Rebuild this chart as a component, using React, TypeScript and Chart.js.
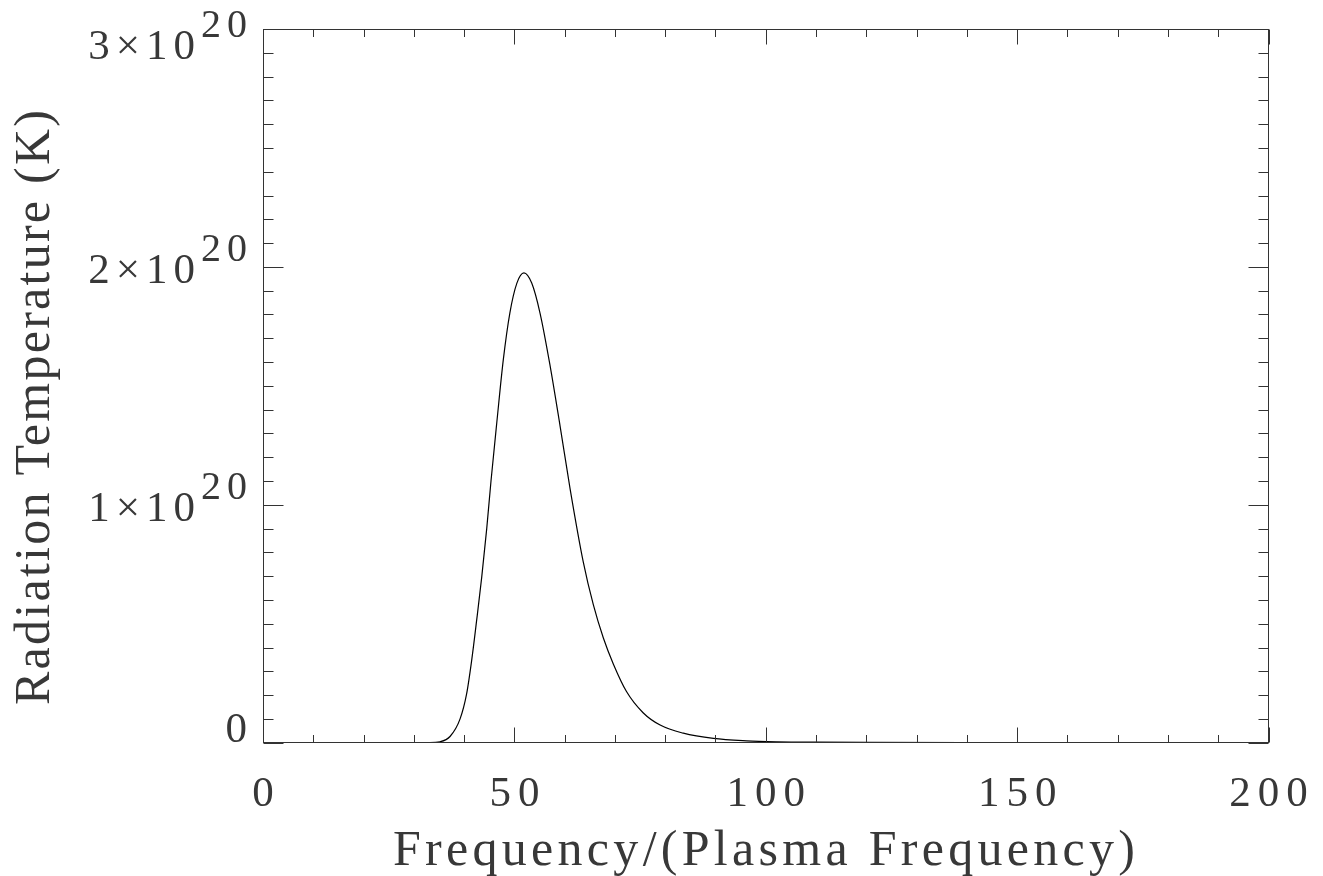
import React, { useEffect, useRef } from 'react';
import { Chart, registerables } from 'chart.js';

Chart.register(...registerables);

// ---- data ----
const frequency = [
  0, 10, 20, 30, 33, 35.2, 37.2, 39.2, 40.5, 41.5, 42.5, 43.5, 44.5, 45.35, 46.5,
  47.8, 49.1, 50.5, 51.9, 53.45, 55.1, 57.1, 59.1, 61.1, 63.7, 65.7, 67.7, 69.7,
  72.3, 75.6, 79.0, 83.6, 89.6, 96.2, 102.2, 110, 120, 140, 170, 200,
];
const radiationTemperature = [
  0, 0, 0, 0, 0.0003e20, 0.004e20, 0.026e20, 0.1e20, 0.205e20, 0.345e20, 0.515e20,
  0.695e20, 0.9e20, 1.1e20, 1.345e20, 1.61e20, 1.806e20, 1.932e20, 1.975e20,
  1.932e20, 1.806e20, 1.585e20, 1.33e20, 1.065e20, 0.76e20, 0.58e20, 0.44e20,
  0.33e20, 0.215e20, 0.126e20, 0.074e20, 0.04e20, 0.018e20, 0.008e20, 0.004e20,
  0.002e20, 0.001e20, 0.0003e20, 0.0001e20, 0,
];
const xTickLabels = ['0', '50', '100', '150', '200'];
const yTickBase = ['0', '1×10', '2×10', '3×10'];
const yTickExp = ['', '20', '20', '20'];
const xTitle = 'Frequency/(Plasma Frequency)';
const yTitle = 'Radiation Temperature (K)';

const FONT = '"Liberation Serif", "DejaVu Serif", serif';
const TEXT_COLOR = '#383838';

function spacedWidth(ctx: CanvasRenderingContext2D, text: string, ls: number) {
  ctx.letterSpacing = '0px';
  const w = ctx.measureText(text).width;
  return w + ls * (text.length - 1);
}

function drawSpaced(ctx: CanvasRenderingContext2D, text: string, x: number, y: number, ls: number) {
  ctx.letterSpacing = ls + 'px';
  ctx.textAlign = 'left';
  ctx.fillText(text, x, y);
  ctx.letterSpacing = '0px';
}

const idlAxes = {
  id: 'idlAxes',
  afterDatasetsDraw(chart: any) {
    const { ctx, chartArea: a, scales } = chart;
    const xs = scales.x;
    const ys = scales.y;
    ctx.save();
    ctx.strokeStyle = '#333';
    ctx.lineWidth = 1;

    const L = Math.round(a.left) + 0.5;
    const R = Math.round(a.right) - 0.5;
    const T = Math.round(a.top) + 0.5;
    const B = Math.round(a.bottom) - 0.5;
    ctx.strokeRect(L, T, R - L, B - T);

    ctx.beginPath();
    // x ticks (bottom and top)
    const xMinorStep = 10;
    for (let v = xs.min; v <= xs.max + 1e-9; v += xMinorStep) {
      const px = Math.round(xs.getPixelForValue(v)) + 0.5;
      const major = Math.abs(v % 50) < 1e-9;
      const len = major ? 15 : 7.5;
      ctx.moveTo(px, B);
      ctx.lineTo(px, B - len);
      ctx.moveTo(px, T);
      ctx.lineTo(px, T + len);
    }
    // y ticks (left and right)
    const yMinorStep = 1e19;
    for (let i = 0; i <= Math.round((ys.max - ys.min) / yMinorStep); i++) {
      const v = ys.min + i * yMinorStep;
      const py = Math.round(ys.getPixelForValue(v)) + 0.5;
      const major = i % 10 === 0;
      const len = major ? 20 : 10;
      ctx.moveTo(L, py);
      ctx.lineTo(L + len, py);
      ctx.moveTo(R, py);
      ctx.lineTo(R - len, py);
    }
    ctx.stroke();

    ctx.fillStyle = TEXT_COLOR;
    ctx.textBaseline = 'alphabetic';

    // x tick labels
    ctx.font = `43px ${FONT}`;
    const xls = 7;
    xs.ticks.forEach((t: any, i: number) => {
      const label = xTickLabels[i] ?? String(t.value);
      const px = xs.getPixelForValue(t.value);
      const w = spacedWidth(ctx, label, xls);
      drawSpaced(ctx, label, px - w / 2, 806, xls);
    });

    // y tick labels with superscript exponent
    const yls = 6;
    ys.ticks.forEach((t: any, i: number) => {
      const base = yTickBase[i] ?? String(t.value);
      const exp = yTickExp[i] ?? '';
      const py = ys.getPixelForValue(t.value);
      const baseline = Math.min(742, Math.max(59, py + 16));
      ctx.font = `43px ${FONT}`;
      const wb = spacedWidth(ctx, base, yls);
      ctx.font = `40px ${FONT}`;
      const we = exp ? spacedWidth(ctx, exp, yls) : 0;
      const gap = exp ? 6 : 0;
      const right = a.left - 16;
      const x0 = right - (wb + gap + we);
      ctx.font = `43px ${FONT}`;
      drawSpaced(ctx, base, x0, baseline, yls);
      if (exp) {
        ctx.font = `40px ${FONT}`;
        drawSpaced(ctx, exp, x0 + wb + gap, baseline - 22, yls);
      }
    });

    // axis titles
    ctx.font = `50px ${FONT}`;
    ctx.letterSpacing = '0px';
    {
      const target = 742;
      const w = ctx.measureText(xTitle).width;
      const ls = (target - w) / (xTitle.length - 1);
      drawSpaced(ctx, xTitle, 393, 865, ls);
    }
    {
      const target = 595;
      ctx.letterSpacing = '0px';
      const w = ctx.measureText(yTitle).width;
      const ls = (target - w) / (yTitle.length - 1);
      ctx.save();
      ctx.translate(49, 705);
      ctx.rotate(-Math.PI / 2);
      drawSpaced(ctx, yTitle, 0, 0, ls);
      ctx.restore();
    }
    ctx.restore();
  },
};

export default function App() {
  const ref = useRef<HTMLCanvasElement>(null);
  useEffect(() => {
    if (!ref.current) return;
    const chart = new Chart(ref.current, {
      type: 'line',
      data: {
        datasets: [
          {
            data: frequency.map((f, i) => ({ x: f, y: radiationTemperature[i] })),
            borderColor: '#000',
            borderWidth: 1.2,
            pointRadius: 0,
            cubicInterpolationMode: 'monotone',
            fill: false,
          },
        ],
      },
      options: {
        animation: false,
        responsive: true,
        maintainAspectRatio: false,
        layout: { padding: { left: 263, right: 54.5, top: 29, bottom: 133.3 } },
        plugins: { legend: { display: false }, tooltip: { enabled: false } },
        scales: {
          x: {
            type: 'linear',
            min: 0,
            max: 200,
            ticks: { display: false, stepSize: 50 },
            grid: { display: false },
            border: { display: false },
            afterFit: (s: any) => {
              s.height = 0;
            },
          },
          y: {
            type: 'linear',
            min: 0,
            max: 3e20,
            ticks: { display: false, stepSize: 1e20 },
            grid: { display: false },
            border: { display: false },
            afterFit: (s: any) => {
              s.width = 0;
            },
          },
        },
      } as any,
      plugins: [idlAxes as any],
    });
    return () => chart.destroy();
  }, []);
  return (
    <div style={{ position: 'fixed', left: 0, top: 0, width: 1323, height: 876, background: '#fff' }}>
      <canvas ref={ref} />
    </div>
  );
}
